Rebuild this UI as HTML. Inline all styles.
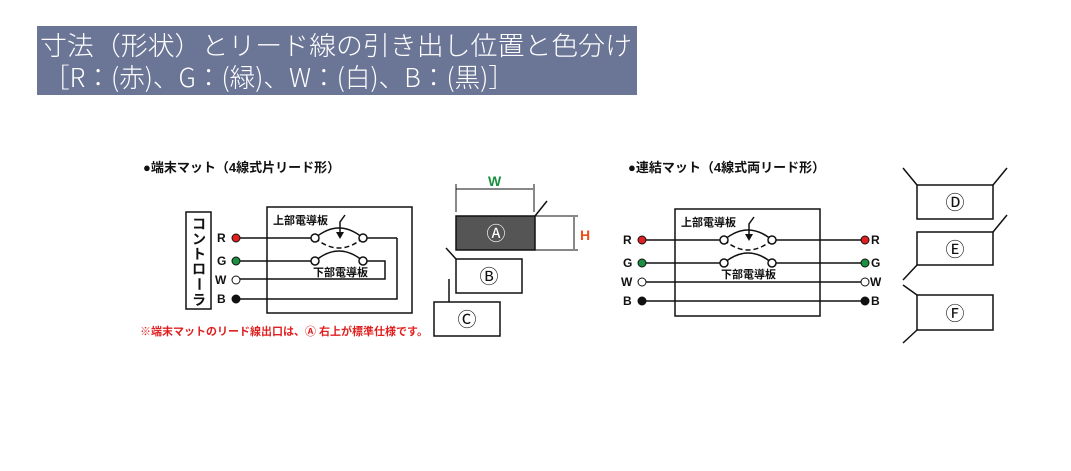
<!DOCTYPE html>
<html><head><meta charset="utf-8"><style>
body{margin:0;background:#fff;}
svg{display:block;}
text{font-family:"Liberation Sans","Noto Sans CJK JP",sans-serif;}
.t{font-weight:bold;font-size:13px;fill:#111;}
.l{font-weight:bold;font-size:12px;fill:#111;}
</style></head><body>
<svg width="1071" height="471" viewBox="0 0 1071 471" xmlns="http://www.w3.org/2000/svg">
<rect x="37" y="26" width="600" height="69" fill="#6b7596"/>
<text x="40" y="55" font-size="26" fill="#fff" style="font-family:'Noto Sans CJK JP',sans-serif;font-weight:300" textLength="592" lengthAdjust="spacingAndGlyphs">寸法（形状）とリード線の引き出し位置と色分け</text>
<text x="44" y="87" font-size="26" fill="#fff" style="font-family:'Noto Sans CJK JP',sans-serif;font-weight:300" textLength="470" lengthAdjust="spacingAndGlyphs">［R：(赤)、G：(緑)、W：(白)、B：(黒)］</text>

<g stroke="#111" stroke-width="1.5" fill="none">
<rect x="186" y="212" width="25" height="97"/>
<rect x="267" y="207" width="145" height="106"/>
<line x1="240" y1="238" x2="311" y2="238"/>
<line x1="367" y1="238" x2="397" y2="238"/>
<polyline points="397,238 397,299 240,299"/>
<line x1="240" y1="261" x2="311" y2="261"/>
<polyline points="367,261 385,261 385,279 240,279"/>
<path d="M315,238 Q339,218 363,238"/>
<path d="M315,238 Q339,258 363,238" stroke-dasharray="5,3"/>
<path d="M315,261 Q339,241 363,261"/>
<path d="M345,215 L340,222 L340,236"/>
<rect x="675" y="209" width="145" height="107"/>
<line x1="646" y1="240" x2="720" y2="240"/>
<line x1="776" y1="240" x2="861" y2="240"/>
<line x1="646" y1="263" x2="720" y2="263"/>
<line x1="776" y1="263" x2="861" y2="263"/>
<line x1="646" y1="282" x2="861" y2="282"/>
<line x1="646" y1="301" x2="861" y2="301"/>
<path d="M724,240 Q748,220 772,240"/>
<path d="M724,240 Q748,260 772,240" stroke-dasharray="5,3"/>
<path d="M724,263 Q748,243 772,263"/>
<path d="M754,217 L749,224 L749,238"/>
<line x1="456" y1="189" x2="533" y2="189" stroke-width="1"/>
<line x1="456" y1="184" x2="456" y2="212" stroke-width="1"/>
<line x1="534" y1="184" x2="534" y2="212" stroke-width="1"/>
<line x1="535" y1="216" x2="547" y2="201"/>
<line x1="535" y1="216" x2="578" y2="216" stroke-width="1"/>
<line x1="535" y1="250" x2="578" y2="250" stroke-width="1"/>
<line x1="574" y1="217" x2="574" y2="249" stroke-width="1"/>
<rect x="456" y="259" width="66" height="34"/>
<line x1="456" y1="259" x2="446" y2="248"/>
<rect x="434" y="302" width="66" height="34"/>
<line x1="449" y1="279" x2="449" y2="302"/>
<rect x="917" y="185" width="76" height="34"/>
<line x1="917" y1="185" x2="903" y2="168"/><line x1="993" y1="185" x2="1007" y2="168"/>
<rect x="917" y="232" width="76" height="33"/>
<line x1="993" y1="232" x2="1007" y2="215"/><line x1="917" y1="265" x2="903" y2="280"/>
<rect x="917" y="295" width="76" height="35"/>
<line x1="917" y1="295" x2="903" y2="285"/><line x1="917" y1="330" x2="903" y2="343"/>
</g>
<rect x="456" y="216" width="79" height="34" fill="#555" stroke="#111" stroke-width="1.5"/>
<g stroke="#111" stroke-width="1.5" fill="#fff">
<circle cx="315" cy="238" r="4"/><circle cx="363" cy="238" r="4"/>
<circle cx="315" cy="261" r="4"/><circle cx="363" cy="261" r="4"/>
<circle cx="724" cy="240" r="4"/><circle cx="772" cy="240" r="4"/>
<circle cx="724" cy="263" r="4"/><circle cx="772" cy="263" r="4"/>
</g>
<g stroke="#111" stroke-width="1">
<circle cx="236" cy="238" r="4" fill="#e02020"/><circle cx="236" cy="261" r="4" fill="#1a9040"/>
<circle cx="236" cy="280" r="4" fill="#fff"/><circle cx="236" cy="299" r="4" fill="#111"/>
<circle cx="642" cy="240" r="4" fill="#e02020"/><circle cx="642" cy="263" r="4" fill="#1a9040"/>
<circle cx="642" cy="282" r="4" fill="#fff"/><circle cx="642" cy="301" r="4" fill="#111"/>
<circle cx="865" cy="240" r="4" fill="#e02020"/><circle cx="865" cy="263" r="4" fill="#1a9040"/>
<circle cx="865" cy="282" r="4" fill="#fff"/><circle cx="865" cy="301" r="4" fill="#111"/>
</g>
<polygon points="336,232 344,232 340,239" fill="#111"/>
<polygon points="745,234 753,234 749,241" fill="#111"/>

<text class="t" x="143" y="172">●端末マット（4線式片リード形）</text>
<text class="t" x="628" y="172">●連結マット（4線式両リード形）</text>
<g class="l">
<text x="217" y="242">R</text><text x="217" y="265">G</text><text x="215" y="284">W</text><text x="217" y="303">B</text>
<text x="623" y="244">R</text><text x="623" y="267">G</text><text x="621" y="286">W</text><text x="623" y="305">B</text>
<text x="871" y="244">R</text><text x="871" y="267">G</text><text x="870" y="286">W</text><text x="871" y="305">B</text>
</g>
<g font-size="14" fill="#111" font-weight="bold" text-anchor="middle">
<text x="199" y="229">コ</text><text x="199" y="244">ン</text><text x="199" y="259">ト</text><text x="199" y="274">ロ</text><text x="199" y="289" transform="rotate(90 199 284)">ー</text><text x="199" y="305">ラ</text>
</g>
<g font-size="11" font-weight="bold" fill="#111">
<text x="273" y="224">上部電導板</text><text x="313" y="276">下部電導板</text>
<text x="681" y="226">上部電導板</text><text x="721" y="278">下部電導板</text>
</g>
<text x="140" y="335" font-size="11" font-weight="bold" fill="#e02020">※端末マットのリード線出口は、Ⓐ 右上が標準仕様です。</text>
<text x="488" y="186" font-size="14" font-weight="bold" fill="#1a9040">W</text>
<text x="580" y="240" font-size="14" font-weight="bold" fill="#e8501a">H</text>
<g font-size="19" text-anchor="middle" style="font-family:'DejaVu Sans',sans-serif">
<text x="496" y="240" fill="#fff">Ⓐ</text>
<text x="489" y="283" fill="#111">Ⓑ</text>
<text x="467" y="326" fill="#111">Ⓒ</text>
<text x="955" y="209" fill="#111">Ⓓ</text>
<text x="955" y="256" fill="#111">Ⓔ</text>
<text x="955" y="320" fill="#111">Ⓕ</text>
</g>
</svg>
</body></html>
